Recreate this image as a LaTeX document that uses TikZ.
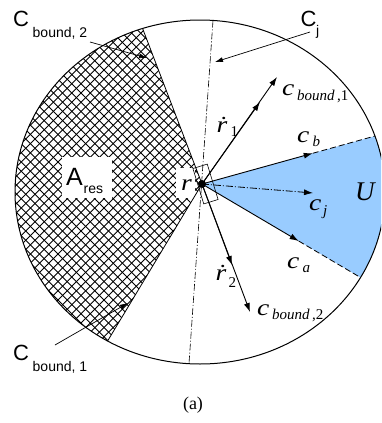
\documentclass[tikz,border=0pt]{standalone}
\usepackage{fontspec}
\setmainfont{Liberation Serif}
\newfontfamily\lsans{Liberation Sans}
\usetikzlibrary{arrows.meta,calc}
\definecolor{ublue}{RGB}{153,204,255}
\newcommand{\fs}[1]{\fontsize{#1}{#1}\selectfont}
\begin{document}
\begin{tikzpicture}[x=1pt,y=-1pt,
  lbl/.style={inner sep=0pt, anchor=base west},
  arr/.style={-{Latex[length=9pt,width=6pt]}, line width=0.9pt},
  leader/.style={-{Latex[length=8pt,width=5pt]}, line width=0.7pt},
  dashdot/.style={dash pattern=on 7pt off 2pt on 1pt off 2pt, line width=0.6pt},
  hatchline/.style={line width=0.9pt, black},
  bigC/.style={lbl, font=\lsans\fs{22}},
  subC/.style={lbl, font=\lsans\fs{14}},
  mathbig/.style={lbl, font=\fs{23}\itshape, xscale=1.2},
  mathsub/.style={lbl, font=\fs{15}\itshape},
  numsub/.style={lbl, font=\fs{15}},
  whitebox/.style={fill=white, inner sep=0pt}]
\useasboundingbox (0,0) rectangle (381,423);
\clip (0,0) rectangle (381,423);
% key points
\coordinate (O) at (200,192);
\coordinate (R) at (202,184);
\coordinate (Pb) at (375,136);
\coordinate (Pa) at (360.5,277.5);
\coordinate (Hu) at (142.6,28.5);
\coordinate (Hl) at (107.6,341);
\coordinate (Jt) at (213,20.5);
\coordinate (Jb) at (189,363.5);
% blue region U
\begin{scope}
  \clip (O) ellipse [x radius=185pt, y radius=172pt];
  \fill[ublue] (R) -- ($(R)!2!(Pb)$) -- ($(R)!2!(Pa)$) -- cycle;
\end{scope}
% cross-hatched region A_res
\begin{scope}
  \clip (O) ellipse [x radius=185pt, y radius=172pt];
  \clip (R) -- ($(R)!2!(Hu)$) -- (-200,-150) -- (-200,520) -- ($(R)!2!(Hl)$) -- cycle;
  \foreach \k in {-380,-370.8,...,230} {
    \draw[hatchline] (\k-50,-50) -- (\k+450,450);
  }
  \foreach \k in {-10,-0.8,...,600} {
    \draw[hatchline] (\k+50,-50) -- (\k-450,450);
  }
\end{scope}
% white label boxes
\node[whitebox, minimum width=50pt, minimum height=41pt] (Abox) at (87,177.5) {};
\node[whitebox, minimum width=19pt, minimum height=30pt] (rbox) at (185.5,183) {};
% outline
\draw[line width=1pt] (O) ellipse [x radius=185pt, y radius=172pt];
% hatch boundaries
\draw[line width=0.8pt] (R) -- (Hu);
\draw[line width=0.8pt] (R) -- (Hl);
% C_j dash-dot line
\draw[dashdot] (Jt) -- (Jb);
% c_b and c_a
\coordinate (Tb) at ($(R)!0.64!(Pb)$);
\coordinate (Ta) at ($(R)!0.61!(Pa)$);
\draw[arr] (R) -- (Tb);
\draw[dash pattern=on 6pt off 3pt, line width=0.8pt] (Tb) -- (Pb);
\draw[arr] (R) -- (Ta);
\draw[dash pattern=on 6pt off 3pt, line width=0.8pt] (Ta) -- (Pa);
% c_j
\coordinate (Cj) at (313,193);
\draw[arr, dashdot, line width=0.8pt] (R) -- (Cj);
% r1 and r2 vectors
\coordinate (E1) at (277,77);
\coordinate (M1) at (260,102);
\coordinate (E2) at (250,312);
\coordinate (M2) at (232,265);
\draw[arr] (R) -- (M1);
\draw[arr] (R) -- (E1);
\draw[arr] (R) -- (M2);
\draw[arr] (R) -- (E2);
% robot body
\node[draw, rotate=17, minimum width=15pt, minimum height=37pt, inner sep=0pt, line width=0.6pt] (body) at (205.5,184) {};
\fill (R) circle[radius=4pt];
% leader arrows
\coordinate (L2s) at (90,42);
\coordinate (L2e) at (147,58);
\coordinate (Ljs) at (310,32);
\coordinate (Lje) at (215,62);
\coordinate (L1s) at (55,345);
\coordinate (L1e) at (128,303);
\draw[leader] (L2s) -- (L2e);
\draw[leader] (Ljs) -- (Lje);
\draw[leader] (L1s) -- (L1e);
% sans labels
\node[bigC] (Cb2) at (13,27) {C};
\node[subC] (Cb2s) at (32.5,37.5) {bound, 2};
\node[bigC] (Cjl) at (300.5,26.7) {C};
\node[subC] (Cjs) at (316,35) {j};
\node[bigC] (Cb1) at (13,360) {C};
\node[subC] (Cb1s) at (32.5,371) {bound, 1};
\node[lbl, font=\lsans\fs{25}] (Al) at (66,185) {A};
\node[lbl, font=\lsans\fs{14}] (Als) at (83.5,193) {res};
% math labels
\node[mathbig] (cb1) at (282,95) {c};
\node[mathsub] (cb1s) at (297,100) {bound\upshape\,,1};
\node[mathbig] (cbl) at (297,142) {c};
\node[mathsub] (cbs) at (312.5,146) {b};
\node[mathbig] (cjl) at (309,210) {c};
\node[mathsub] (cjs) at (323,215) {j};
\node[mathbig] (cal) at (287,268) {c};
\node[mathsub] (cas) at (302.5,272.5) {a};
\node[mathbig] (cb2) at (257,315) {c};
\node[mathsub] (cb2s) at (272,319) {bound\upshape\,,2};
\node[mathbig] (r1) at (216.5,132) {\.{r}};
\node[numsub] (r1s) at (230.5,136.5) {1};
\node[mathbig] (r2) at (215.5,280) {\.{r}};
\node[numsub] (r2s) at (228.5,287) {2};
\node[mathbig] (rl) at (181,190) {r};
\node[lbl, font=\fs{27}\itshape] (Ul) at (355,200) {U};
\node[font=\fs{18}] (cap) at (193,405) {(a)};
\end{tikzpicture}
\end{document}
